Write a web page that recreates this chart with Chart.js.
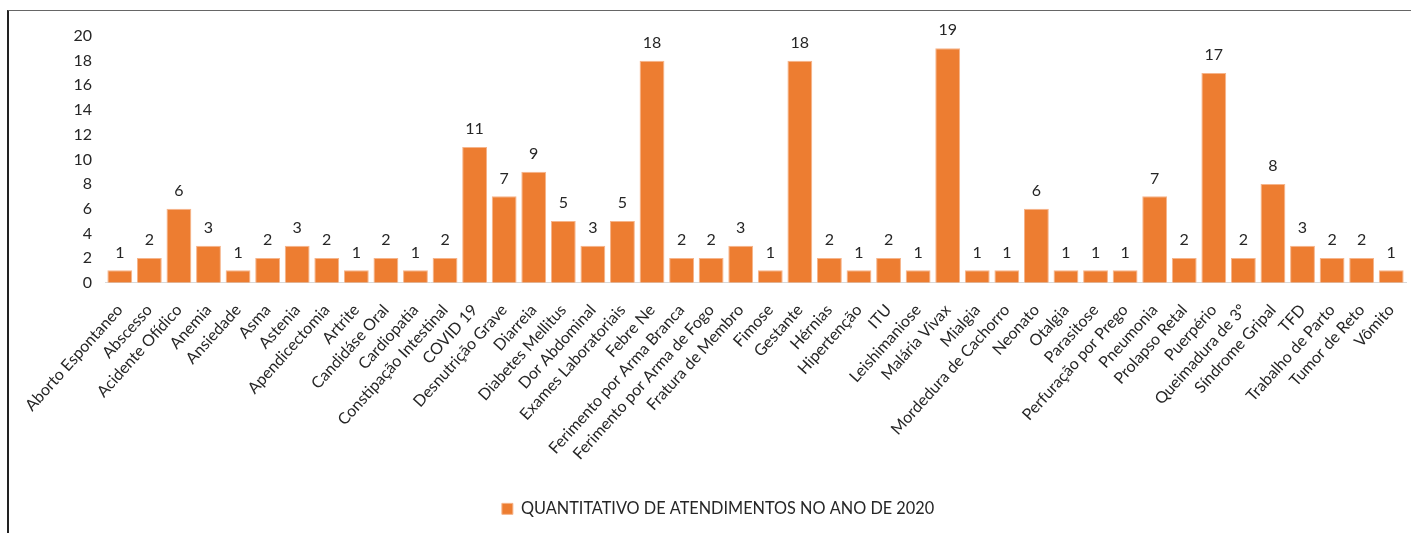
<!DOCTYPE html>
<html>
<head>
<meta charset="utf-8">
<script src="https://cdn.jsdelivr.net/npm/chart.js@4/dist/chart.umd.min.js"></script>
<style>
    html, body { margin: 0; padding: 0; background: #fff; }
    #wrap { position: relative; width: 1411px; height: 533px; overflow: hidden; }
    #frame { position: absolute; left: 7px; top: 10px; right: -5px; bottom: -5px;
             border-left: 2px solid #222; border-top: 1px solid #666; }
    canvas { position: absolute; left: 0; top: 0; }
</style>
</head>
<body>
<div id="wrap">
    <div id="frame"></div>
    <canvas id="chart" width="1411" height="533"></canvas>
</div>
<script>
// Atendimentos por motivo (2020)
const categorias = [
    'Aborto Espontaneo', 'Abscesso', 'Acidente Ofídico', 'Anemia', 'Ansiedade', 'Asma', 'Astenia',
    'Apendicectomia', 'Artrite', 'Candidáse Oral', 'Cardiopatia', 'Constipação Intestinal', 'COVID 19',
    'Desnutrição Grave', 'Diarreia', 'Diabetes Mellitus', 'Dor Abdominal', 'Exames Laboratoriais',
    'Febre Ne', 'Ferimento por Arma Branca', 'Ferimento por Arma de Fogo', 'Fratura de Membro', 'Fimose',
    'Gestante', 'Hérnias', 'Hipertenção', 'ITU', 'Leishimaniose', 'Malária Vivax', 'Mialgia',
    'Mordedura de Cachorro', 'Neonato', 'Otalgia', 'Parasitose', 'Perfuração por Prego', 'Pneumonia',
    'Prolapso Retal', 'Puerpério', 'Queimadura de 3º', 'Síndrome Gripal', 'TFD', 'Trabalho de Parto',
    'Tumor de Reto', 'Vômito'
];
const atendimentos = [
    1, 2, 6, 3, 1, 2, 3,
    2, 1, 2, 1, 2, 11,
    7, 9, 5, 3, 5,
    18, 2, 2, 3, 1,
    18, 2, 1, 2, 1, 19, 1,
    1, 6, 1, 1, 1, 7,
    2, 17, 2, 8, 3, 2,
    2, 1
];
const yTicks = [0, 2, 4, 6, 8, 10, 12, 14, 16, 18, 20];
const serieNome = 'QUANTITATIVO DE ATENDIMENTOS NO ANO DE 2020';

const FONTE = "Lato, 'Open Sans', sans-serif";
const COR_TEXTO = '#262626';
Chart.defaults.font.family = FONTE;

// rótulos de valor acima das barras
const valoresPlugin = {
    id: 'valores',
    afterDatasetsDraw(chart) {
        const ctx = chart.ctx;
        const meta = chart.getDatasetMeta(0);
        ctx.save();
        ctx.font = '16px ' + FONTE;
        ctx.fillStyle = COR_TEXTO;
        ctx.textAlign = 'center';
        ctx.textBaseline = 'bottom';
        meta.data.forEach((bar, i) => {
            ctx.fillText(String(atendimentos[i]), bar.x, bar.y - 10);
        });
        ctx.restore();
    }
};

// legenda um pouco à direita do centro
const legendaDesloc = {
    id: 'legendaDesloc',
    afterLayout(chart) {
        chart.legend.left += 15;
        chart.legend.right += 15;
    }
};

new Chart(document.getElementById('chart'), {
    type: 'bar',
    data: {
        labels: categorias,
        datasets: [{
            label: serieNome,
            data: atendimentos,
            backgroundColor: '#ED7D31',
            borderColor: '#F6B48A',
            borderWidth: 1,
            categoryPercentage: 1,
            barPercentage: 0.84
        }]
    },
    options: {
        responsive: false,
        animation: false,
        layout: { padding: { left: 0, right: 5, top: 36, bottom: 6 } },
        plugins: {
            legend: {
                position: 'bottom',
                labels: {
                    color: COR_TEXTO,
                    font: { size: 16.3 },
                    boxWidth: 11,
                    boxHeight: 11,
                    padding: 10
                }
            },
            tooltip: { enabled: false }
        },
        scales: {
            x: {
                grid: { display: false, drawTicks: false },
                border: { color: '#D9D9D9', width: 1 },
                ticks: {
                    color: COR_TEXTO,
                    font: { size: 16 },
                    minRotation: 48,
                    maxRotation: 48,
                    autoSkip: false,
                    padding: 18
                },
                afterFit(scale) {
                    scale.height = 208;
                    scale.paddingLeft = 0;
                    scale.paddingRight = 0;
                }
            },
            y: {
                min: 0,
                max: 20,
                afterBuildTicks(scale) { scale.ticks = yTicks.map(v => ({ value: v })); },
                grid: { display: false, drawTicks: false },
                border: { display: false },
                ticks: { color: COR_TEXTO, font: { size: 16 }, padding: 13 },
                afterFit(scale) { scale.width = 105; }
            }
        }
    },
    plugins: [valoresPlugin, legendaDesloc]
});
</script>
</body>
</html>
